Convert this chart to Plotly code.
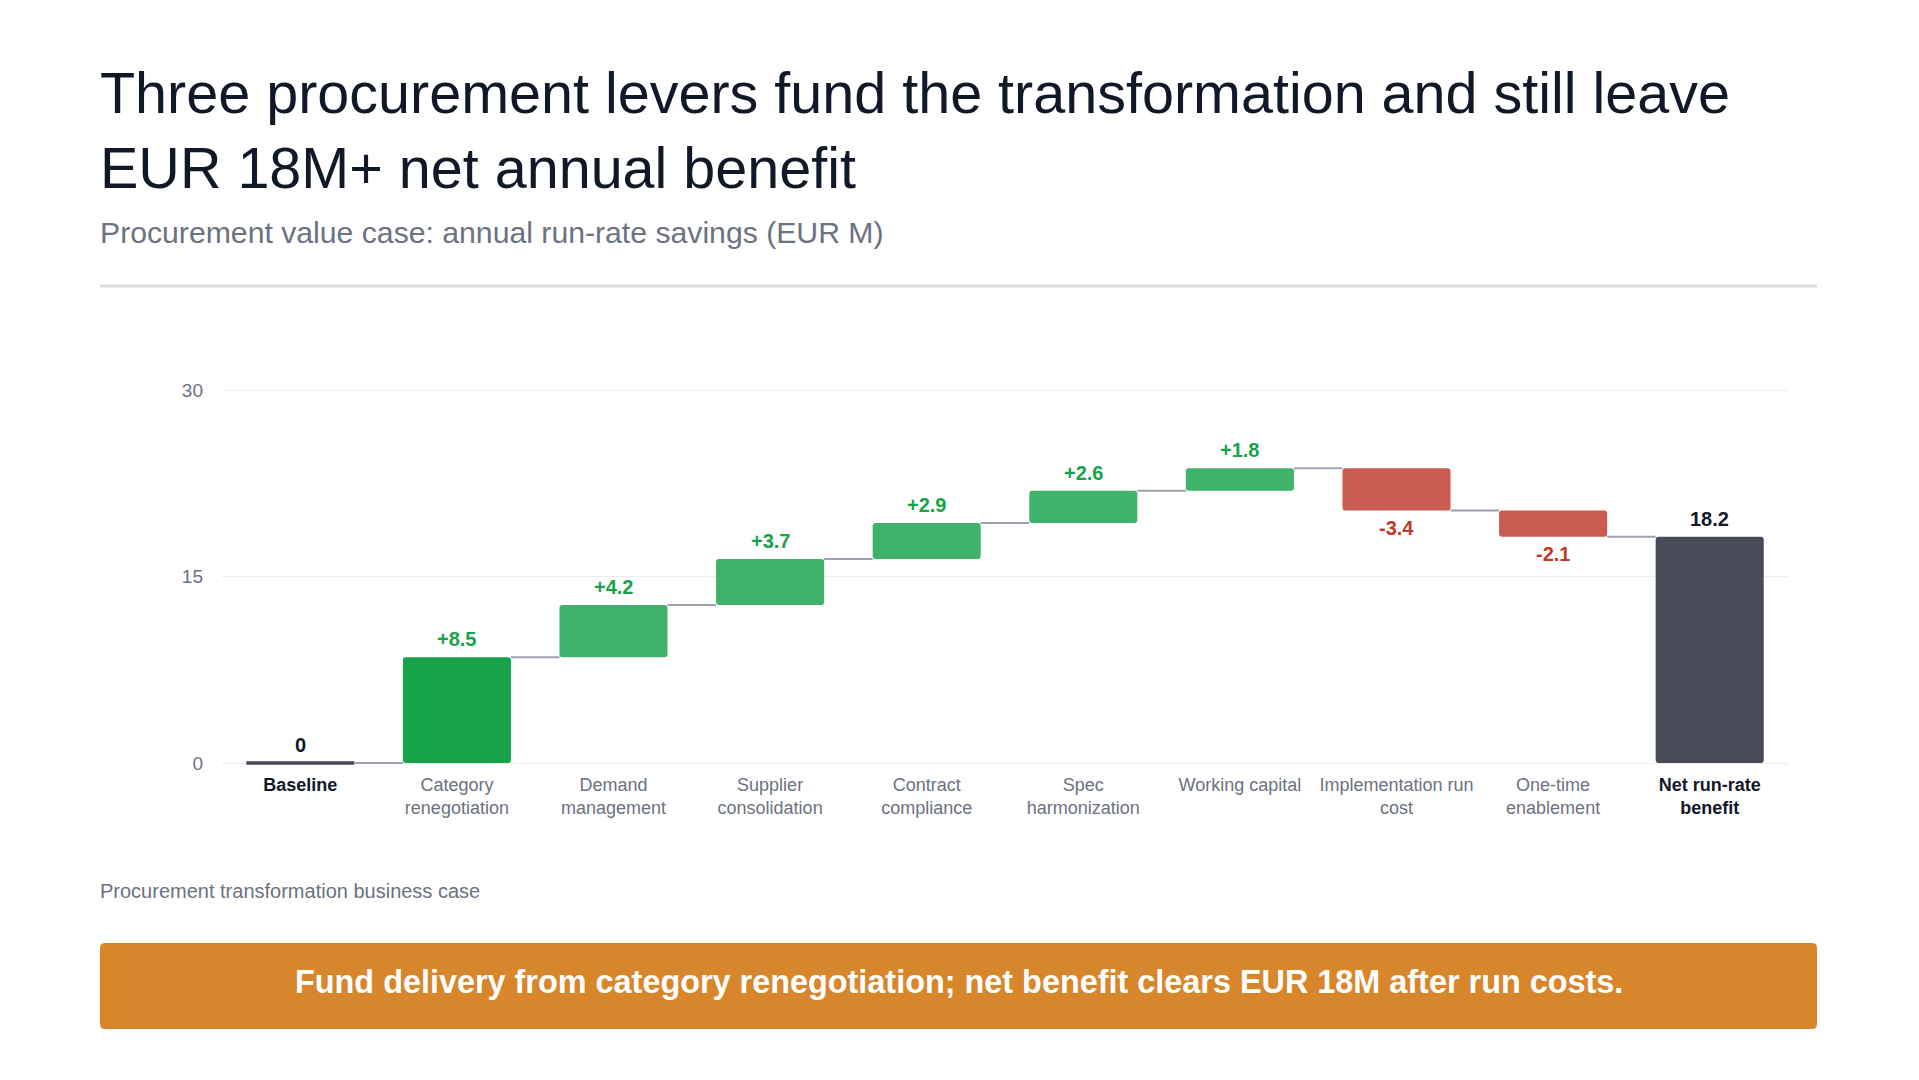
import plotly.graph_objects as go

# ---------------- data ----------------
baseline_label = "Baseline"
baseline_value = 0.0
step_labels = [
    "Category<br>renegotiation",
    "Demand<br>management",
    "Supplier<br>consolidation",
    "Contract<br>compliance",
    "Spec<br>harmonization",
    "Working capital",
    "Implementation run<br>cost",
    "One-time<br>enablement",
]
step_values = [8.5, 4.2, 3.7, 2.9, 2.6, 1.8, -3.4, -2.1]
total_label = "Net run-rate<br>benefit"
total_value = 18.2
y_ticks = [0, 15, 30]

title_text = "Three procurement levers fund the transformation and still leave<br>EUR 18M+ net annual benefit"
subtitle_text = "Procurement value case: annual run-rate savings (EUR M)"
caption_text = "Procurement transformation business case"
banner_text = "Fund delivery from category renegotiation; net benefit clears EUR 18M after run costs."

# ---------------- styling ----------------
FONT = "Liberation Sans, Arial, Helvetica, sans-serif"
DARK = "#111827"
GRAY = "#6b7280"
GREEN_STRONG = "#16a34a"
GREEN = "#40b36b"
RED = "#cb5c51"
RED_TEXT = "#c0392b"
TOTAL = "#474b57"
CONNECTOR = "#9ca3af"
GRID = "#ececec"
BANNER = "#d8862b"

W, H = 1919, 1080
ML, MR, MT, MB = 222, 131, 376, 312
PW = W - ML - MR
PH = H - MT - MB
BAR_W = 0.69


def px_x(px):
    return (px - ML) / PW


def px_y(py):
    return (H - MB - py) / PH


n_steps = len(step_values)
x_base = 0
x_steps = list(range(1, n_steps + 1))
x_total = n_steps + 1

# cumulative levels
bases, level = [], baseline_value
levels = [baseline_value]
for v in step_values:
    bases.append(level)
    level += v
    levels.append(level)

step_colors = []
for i, v in enumerate(step_values):
    if v < 0:
        step_colors.append(RED)
    elif i == 0:
        step_colors.append(GREEN_STRONG)
    else:
        step_colors.append(GREEN)

fig = go.Figure()

# step bars
fig.add_trace(go.Bar(
    x=x_steps, y=step_values, base=bases, width=BAR_W,
    marker=dict(color=step_colors, line=dict(width=0), cornerradius=3),
    hoverinfo="skip", showlegend=False,
))
# total bar
fig.add_trace(go.Bar(
    x=[x_total], y=[total_value], base=[0], width=BAR_W,
    marker=dict(color=TOTAL, line=dict(width=0), cornerradius=3),
    hoverinfo="skip", showlegend=False,
))
# baseline marker (zero-height bar shown as a thick line)
fig.add_trace(go.Scatter(
    x=[x_base - BAR_W / 2, x_base + BAR_W / 2], y=[baseline_value, baseline_value],
    mode="lines", line=dict(color=TOTAL, width=3.5),
    hoverinfo="skip", showlegend=False,
))
# connectors
cx, cy = [], []
for i, lv in enumerate(levels):
    cx += [i + BAR_W / 2, i + 1 - BAR_W / 2, None]
    cy += [lv, lv, None]
fig.add_trace(go.Scatter(
    x=cx, y=cy, mode="lines", line=dict(color=CONNECTOR, width=2),
    hoverinfo="skip", showlegend=False,
))

annotations = []
# value labels
annotations.append(dict(
    x=x_base, y=baseline_value, xref="x", yref="y", text=f"<b>{baseline_value:g}</b>",
    showarrow=False, yanchor="bottom", yshift=5,
    font=dict(family=FONT, size=20, color=DARK),
))
for i, v in enumerate(step_values):
    top = max(bases[i], bases[i] + v)
    bot = min(bases[i], bases[i] + v)
    if v >= 0:
        annotations.append(dict(
            x=x_steps[i], y=top, xref="x", yref="y", text=f"<b>{v:+.1f}</b>",
            showarrow=False, yanchor="bottom", yshift=5,
            font=dict(family=FONT, size=20, color=GREEN_STRONG),
        ))
    else:
        annotations.append(dict(
            x=x_steps[i], y=bot, xref="x", yref="y", text=f"<b>{v:.1f}</b>",
            showarrow=False, yanchor="top", yshift=-4,
            font=dict(family=FONT, size=20, color=RED_TEXT),
        ))
annotations.append(dict(
    x=x_total, y=total_value, xref="x", yref="y", text=f"<b>{total_value:.1f}</b>",
    showarrow=False, yanchor="bottom", yshift=5,
    font=dict(family=FONT, size=20, color=DARK),
))

# title / subtitle / caption
TX = 97.5
annotations.append(dict(
    x=px_x(TX), y=px_y(59), xref="paper", yref="paper", text=title_text,
    showarrow=False, xanchor="left", yanchor="top", align="left",
    font=dict(family=FONT, size=57.5, color=DARK),
))
annotations.append(dict(
    x=px_x(TX), y=px_y(233), xref="paper", yref="paper", text=subtitle_text,
    showarrow=False, xanchor="left", yanchor="middle", align="left",
    font=dict(family=FONT, size=30.2, color=GRAY),
))
annotations.append(dict(
    x=px_x(TX), y=px_y(891), xref="paper", yref="paper", text=caption_text,
    showarrow=False, xanchor="left", yanchor="middle", align="left",
    font=dict(family=FONT, size=20, color=GRAY),
))
annotations.append(dict(
    x=px_x(958.5), y=px_y(982), xref="paper", yref="paper", text=f"<b>{banner_text}</b>",
    showarrow=False, xanchor="center", yanchor="middle",
    font=dict(family=FONT, size=32.4, color="#ffffff"),
))

# banner rounded rect
bx0, bx1, by0, by1 = px_x(100), px_x(1817), px_y(1029), px_y(943)
rx, ry = 5 / PW, 5 / PH
banner_path = (
    f"M {bx0 + rx},{by1} L {bx1 - rx},{by1} Q {bx1},{by1} {bx1},{by1 - ry} "
    f"L {bx1},{by0 + ry} Q {bx1},{by0} {bx1 - rx},{by0} "
    f"L {bx0 + rx},{by0} Q {bx0},{by0} {bx0},{by0 + ry} "
    f"L {bx0},{by1 - ry} Q {bx0},{by1} {bx0 + rx},{by1} Z"
)
shapes = [
    dict(type="line", xref="paper", yref="paper", x0=px_x(100), x1=px_x(1817),
         y0=px_y(286), y1=px_y(286), line=dict(color="#d9dce1", width=3)),
    dict(type="path", xref="paper", yref="paper", path=banner_path,
         fillcolor=BANNER, line=dict(width=0), layer="below"),
]

tick_text = [f"<span style='color:{DARK}'><b>{baseline_label}</b></span>"]
tick_text += step_labels
tick_text += ["<span style='color:%s'>%s</span>" % (
    DARK, "<br>".join(f"<b>{p}</b>" for p in total_label.split("<br>")))]

fig.update_layout(
    width=W, height=H,
    margin=dict(l=ML, r=MR, t=MT, b=MB, autoexpand=False),
    paper_bgcolor="#ffffff", plot_bgcolor="#ffffff",
    font=dict(family=FONT, color=GRAY),
    showlegend=False,
    barmode="overlay",
    annotations=annotations,
    shapes=shapes,
    xaxis=dict(
        range=[-0.5, n_steps + 1.5],
        tickmode="array",
        tickvals=[x_base] + x_steps + [x_total],
        ticktext=tick_text,
        tickfont=dict(family=FONT, size=18, color=GRAY),
        showgrid=False, zeroline=False, showline=False, ticks="",
        ticklabelstandoff=4,
        fixedrange=True,
    ),
    yaxis=dict(
        range=[-0.402, 31.126],
        tickmode="array", tickvals=y_ticks,
        tickfont=dict(family=FONT, size=19, color=GRAY),
        showgrid=True, gridcolor=GRID, gridwidth=1,
        zeroline=True, zerolinecolor=GRID, zerolinewidth=1,
        showline=False, ticks="", ticklabelstandoff=18,
        fixedrange=True,
    ),
)

fig.write_html("out.html", config={"displayModeBar": False})
